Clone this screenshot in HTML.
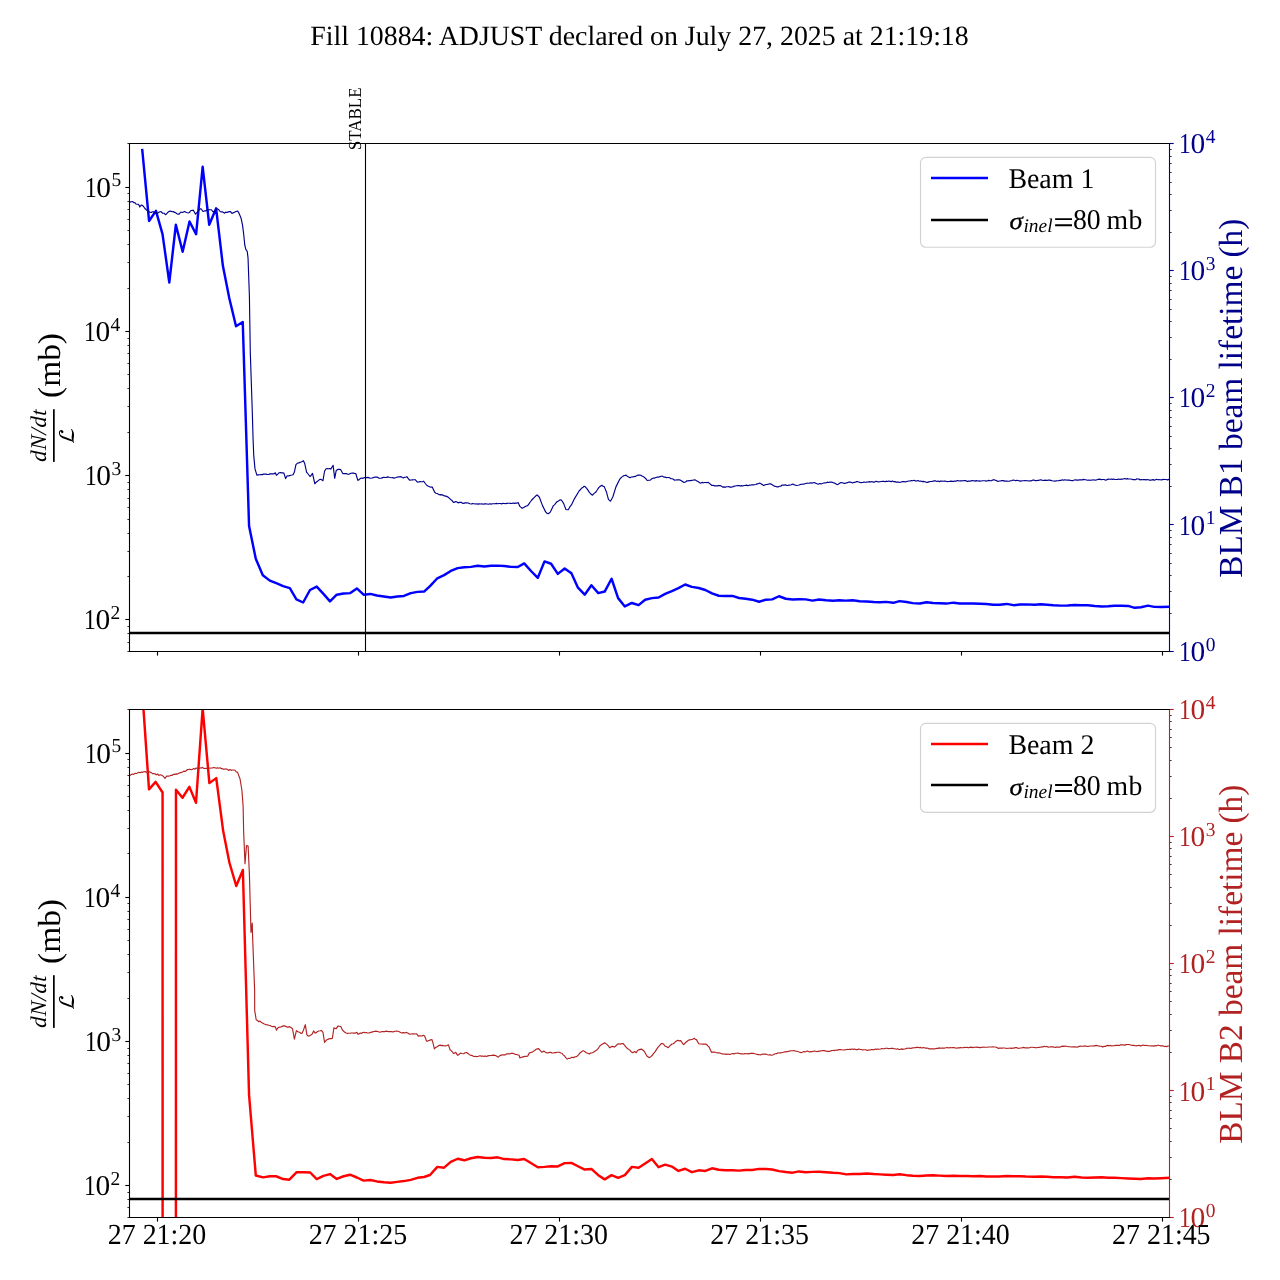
<!DOCTYPE html>
<html><head><meta charset="utf-8"><title>Fill 10884</title>
<style>html,body{margin:0;padding:0;background:#fff;width:1280px;height:1280px;overflow:hidden}svg text{font-family:"Liberation Serif",serif;-webkit-font-smoothing:antialiased;text-rendering:geometricPrecision}svg{will-change:transform}</style></head>
<body>
<svg width="1280" height="1280" viewBox="0 0 1280 1280" style="display:block" font-family='"Liberation Serif", serif'>
<rect width="1280" height="1280" fill="#fff"/>
<defs><clipPath id="c1"><rect x="129.5" y="143.5" width="1040" height="508"/></clipPath><clipPath id="c2"><rect x="129.5" y="709.5" width="1040" height="508"/></clipPath></defs>
<text x="639.5" y="45" font-size="27.85" text-anchor="middle" fill="#000">Fill 10884: ADJUST declared on July 27, 2025 at 21:19:18</text>
<g clip-path="url(#c1)" fill="none" stroke-linejoin="round">
<path d="M142.28,150.06 L149.06,220.94 L155.95,210.87 L162.52,234.06 L169.30,282.50 L175.86,224.76 L182.64,251.78 L189.53,221.48 L196.09,234.28 L202.66,166.80 L209.22,224.76 L216.11,208.36 L222.89,265.78 L229.25,298 L236,326.25 L242.75,322 L249.06,525.94 L255.78,558.75 L262.81,575.16 L269.84,580.62 L276.88,583.44 L283.12,586.09 L289.84,588.12 L296.41,599.38 L303.12,602.50 L310,590 L316.72,586.56 L323.44,593.91 L330,601.41 L336.72,594.69 L343.59,593.44 L350.31,593.12 L356.88,588.44 L363.59,594.69 L370.31,593.91 L376.88,595.47 L383.91,596.56 L390.62,597.50 L397.19,596.56 L403.91,595.94 L410.78,593.12 L417.50,591.88 L424.06,591.56 L430,586.09 L437.34,578.28 L444.06,575.16 L450.78,570.94 L457.66,568.12 L464.38,567.34 L470.94,566.88 L477.66,565.78 L484.38,566.56 L490.94,565.78 L497.66,565.62 L504.22,565.94 L510.94,566.88 L517.81,567.03 L524.22,563.44 L531.25,571.25 L537.81,577.81 L544.53,561.41 L551.09,563.75 L557.81,573.91 L564.69,568.44 L571.41,573.28 L577.97,587.66 L584.69,594.69 L591.41,585.31 L598.28,593.12 L604.69,591.56 L611.56,578.75 L618.12,598.12 L624.84,606.41 L631.88,602.97 L638.59,605.16 L645.16,599.69 L651.88,598.12 L658.59,597.50 L665.16,593.91 L671.88,591.09 L678.44,588.12 L685.16,584.53 L691.88,586.88 L698.75,587.97 L705.31,590 L712.03,593.44 L718.75,595.78 L725.31,595.94 L732.34,595.94 L739.06,597.97 L745.62,598.75 L752.19,599.69 L759.06,601.72 L765.94,599.69 L772.19,599.38 L778.91,596.25 L785.78,598.75 L792.50,599.53 L799.22,599.22 L805.78,599.38 L812.50,600.62 L819.06,599.53 L826.09,600.31 L833.12,600.78 L839.38,600.16 L845.62,600.62 L852.66,600.31 L859.69,601.25 L866.72,601.41 L873.75,602.03 L880,602.19 L886.25,601.88 L893.28,602.81 L899.53,601.09 L906.56,602.03 L912.81,603.12 L919.84,603.44 L926.56,602.19 L933.12,602.97 L939.38,603.28 L946.41,603.59 L953.44,602.66 L959.69,603.44 L966.72,603.59 L972.97,603.59 L980,603.75 L986.25,603.91 L993.28,604.69 L999.53,604.69 L1006.56,603.91 L1013.59,605.16 L1019.84,604.53 L1026.09,604.38 L1034.69,604.69 L1040.94,604.22 L1047.19,604.69 L1053.44,605.31 L1060.47,605.62 L1067.50,605.47 L1074.53,605 L1081.56,605.16 L1087.81,605.31 L1094.84,605.94 L1101.88,606.41 L1108.12,606.25 L1114.38,605.78 L1121.41,605.78 L1128.12,605.94 L1134.69,607.81 L1140.94,607.19 L1147.97,605.62 L1154.22,606.88 L1161.25,607.03 L1169.06,606.72" stroke="#0000ff" stroke-width="2.45" stroke-linecap="square"/>
<path d="M129.5,633.00 H1169.5" stroke="#000" stroke-width="2.4"/>
<path d="M129.59,202.34 L131.12,201.80 L132.66,201.48 L133.75,202.75 L134.84,202.60 L135.94,204.02 L137.03,204.25 L138.12,204.26 L139.22,205.41 L139.77,206.94 L141.41,204.98 L142.50,205.56 L143.59,206.50 L144.69,208.31 L145.78,209.23 L146.87,210.30 L147.97,210.52 L149.06,211.93 L150.16,212.20 L151.25,212.50 L152.34,211.71 L153.44,211.74 L154.53,212.87 L155.62,211.99 L156.72,213.39 L157.81,213.09 L158.91,212.27 L160,211.75 L161.09,211.68 L162.55,213.25 L164.01,213.20 L165.47,214.67 L166.74,213.71 L168.02,212.21 L169.30,211.35 L170.66,211.08 L172.03,211.78 L173.12,211.63 L174.22,212.13 L175.59,212.79 L176.95,213.66 L178.05,214.12 L179.14,214.11 L180.78,212 L182.06,212.45 L183.33,212.12 L184.61,211.41 L185.98,212.30 L187.34,212.76 L188.44,213.03 L189.53,212.40 L190.62,210.77 L191.72,210.44 L193.36,210.20 L195.55,214.16 L196.64,212.77 L197.73,211.87 L199.10,209.63 L200.47,208.68 L201.56,209.19 L202.66,211.25 L203.75,211.31 L204.84,210.84 L205.94,210.89 L207.03,209.72 L208.12,209.63 L209.22,209.70 L210.31,209.79 L211.40,209.74 L212.50,211.23 L213.59,212.05 L214.69,210.78 L215.78,210.15 L216.87,208.78 L217.97,209.09 L219.06,210.04 L220.15,211.48 L221.25,211.93 L222.34,211.79 L223.44,212.41 L224.53,213.22 L225.62,212.12 L226.72,212.57 L227.81,212.10 L229.18,211.60 L230.55,211.57 L231.64,213.14 L232.73,213.16 L233.83,212.46 L234.92,212.09 L236.56,211.21 L237.65,211.17 L238.75,212.69 L240.94,217.66 L242.58,225.31 L243.67,234.06 L244.76,245 L245.86,249.37 L247.28,251.56 L248.04,258.12 L249.40,296 L250.30,352.50 L252.20,408.80 L253.12,440 L253.75,455.62 L255,468.91 L256.88,475.16 L258.28,474.84 L259.69,474.72 L260.97,474.60 L262.24,474.61 L263.52,474.11 L264.80,474.19 L266.08,474.12 L267.36,474.51 L268.64,474.54 L269.91,473.87 L271.19,473.86 L272.47,473.88 L273.75,473.93 L275.31,472.81 L276.41,475.31 L277.81,474.13 L279.22,472.70 L280.39,472.49 L281.56,472.90 L282.73,472.94 L283.91,473.16 L285.62,478.59 L287.03,475.94 L288.25,476.05 L289.47,475.59 L290.69,475.20 L291.91,475.03 L293.12,474.77 L294.38,472.03 L295.94,464.69 L297.34,463.32 L298.75,462.85 L299.92,462.41 L301.09,462.02 L302.27,461.49 L303.44,460.73 L304.69,463.44 L306.56,472.03 L308.12,474.01 L310,476.53 L311.25,475.26 L312.50,473.38 L314.84,483.75 L316.17,482.23 L317.50,481.27 L318.91,480.12 L320.31,479.30 L321.64,479.80 L322.97,480.70 L324.53,471.25 L326.09,468.74 L327.27,468.59 L328.44,468.80 L329.61,468.53 L330.78,469.09 L333.12,465.31 L334.69,478.28 L336.25,470.47 L337.81,469.43 L339.22,469.25 L340.62,469.57 L342.81,473.59 L344,473.57 L345.19,473.67 L346.38,473.57 L347.56,474.25 L348.75,474.30 L349.92,473.64 L351.09,473.27 L352.27,473.03 L353.44,473.12 L354.61,473.39 L355.78,473.48 L357.81,480.31 L358.96,479.90 L360.10,478.69 L361.25,478.05 L362.60,478.38 L363.96,477.78 L365.31,477.33 L366.64,477.65 L367.97,477.36 L369.30,477.87 L370.62,478.20 L371.99,478.03 L373.36,477.66 L374.73,477.07 L376.09,476.97 L377.40,477.18 L378.70,478.08 L380,478.30 L381.30,478.24 L382.60,477.62 L383.91,477.28 L385.21,477.49 L386.51,477.37 L387.81,476.89 L389.06,477.24 L390.31,477.54 L391.56,477.75 L392.81,477.63 L394.06,478.13 L395.47,477.73 L396.88,477.19 L398.28,476.90 L399.69,476.82 L401.09,476.60 L402.27,477.42 L403.44,478.03 L404.58,477.30 L405.73,477.22 L406.88,476.64 L408.28,478.72 L409.69,480.25 L411.05,479.97 L412.42,479.86 L413.79,479.72 L415.16,479.70 L416.33,480.96 L417.50,482.07 L418.75,482.05 L420,481.67 L421.25,481.72 L422.50,481.74 L423.75,481.21 L425.31,483.49 L426.88,485.51 L428.44,486.32 L430,487 L431.17,487.09 L432.34,487.19 L434.69,492.34 L435.99,493.20 L437.29,493.46 L438.59,494.36 L439.77,494.83 L440.94,494.60 L442.11,494.84 L443.28,495.37 L444.53,495.93 L445.78,496.08 L447.03,496.64 L448.28,497.25 L449.53,498.32 L450.83,499.72 L452.14,500.55 L453.44,502.34 L454.61,502.18 L455.78,501.48 L456.95,501.99 L458.12,502.84 L459.69,502.36 L461.25,502.27 L462.42,503.27 L463.59,503.35 L465.16,502.91 L466.72,502.71 L468.28,502.99 L469.84,503.77 L471.21,503.97 L472.58,503.60 L473.95,503.75 L475.31,503.96 L476.61,503.85 L477.92,504.13 L479.22,503.87 L480.52,504 L481.82,503.77 L483.12,504.26 L484.46,503.90 L485.80,503.94 L487.14,504 L488.48,504.21 L489.82,503.78 L491.16,504.13 L492.50,503.75 L493.80,503.78 L495.10,503.77 L496.41,503.36 L497.71,503.70 L499.01,503.50 L500.31,503.51 L501.61,503.91 L502.92,503.33 L504.22,503.49 L505.52,503.62 L506.82,503.40 L508.12,503.20 L509.35,503.30 L510.58,503.33 L511.81,503.51 L513.04,502.97 L514.26,503.33 L515.49,503.08 L516.72,503.17 L518.28,502.63 L519.84,506.41 L521.02,507.35 L522.19,508.31 L523.75,507.55 L525.31,506.60 L526.48,505.97 L527.66,505.68 L528.96,503.81 L530.26,501.99 L531.56,500.25 L532.93,498.75 L534.30,497.45 L535.66,496.04 L537.03,494.90 L538.20,496.02 L539.38,497.21 L542.50,505.62 L545.62,511.88 L546.95,513.24 L548.28,513.79 L549.30,512.94 L550.31,512.09 L553.44,505.62 L554.74,504.59 L556.04,502.73 L557.34,501.54 L558.49,501.05 L559.64,500.13 L560.78,499.72 L562.19,501.22 L563.59,503.36 L565.94,509.53 L567.11,509.76 L568.28,509.72 L569.84,506.91 L571.41,504.95 L574.53,498.59 L579.22,490.78 L580.39,489.74 L581.56,488.15 L582.73,487.57 L583.91,486.32 L585.08,486.65 L586.25,487.87 L587.81,489.92 L589.38,492.34 L590.94,494.06 L592.50,495.16 L594.06,493.40 L595.62,492.31 L597.19,490.01 L598.75,487.58 L600.31,486.24 L601.88,485.23 L603.05,486.27 L604.22,486.64 L606.56,492.34 L608.44,499.38 L609.45,500.36 L610.47,501.22 L612.81,497.03 L615.94,486.88 L619.84,479.06 L621.15,477.53 L622.45,476.64 L623.75,475.68 L624.92,475.48 L626.09,475.10 L627.40,476.43 L628.70,477 L630,477.73 L631.30,476.98 L632.60,476.90 L633.91,476.65 L635.47,476.40 L637.03,475.36 L638.33,475.02 L639.64,475.09 L640.94,475.20 L642.50,476.35 L644.06,477.07 L645.62,478.47 L647.19,480.51 L648.75,480.21 L650.31,480.10 L651.88,478.81 L653.44,478.07 L654.74,478.07 L656.04,477.49 L657.34,476.98 L658.65,477.17 L659.95,476.57 L661.25,476.24 L662.55,476.13 L663.85,477.11 L665.16,476.98 L666.33,477.63 L667.50,477.46 L668.67,477.53 L669.84,477.84 L671.02,478.74 L672.19,478.80 L673.36,479.27 L674.53,480.17 L675.90,479.95 L677.27,479.84 L678.63,479.89 L680,479.94 L681.30,480.70 L682.60,481.57 L683.91,482.41 L685.47,481.93 L687.03,480.84 L688.20,480.86 L689.38,480.52 L690.55,480.58 L691.72,480.39 L693.02,480.22 L694.32,479.82 L695.62,480.11 L696.93,480.98 L698.23,481.63 L699.53,482.80 L700.83,483.11 L702.14,482.39 L703.44,482.81 L704.61,482.52 L705.78,482.50 L706.95,482.69 L708.12,482.29 L709.43,483.34 L710.73,484.47 L712.03,485.54 L713.33,485.34 L714.64,485.89 L715.94,485.88 L717.24,485.84 L718.54,485.60 L719.84,485.55 L721.41,486.13 L722.97,487.17 L724.14,486.88 L725.31,487.30 L726.48,486.80 L727.66,486.71 L728.83,486.54 L730,487.15 L731.17,487.17 L732.34,486.96 L733.71,486.39 L735.08,486.04 L736.45,485.77 L737.81,485.61 L738.98,485.59 L740.16,486.07 L741.46,485.64 L742.76,485.94 L744.06,485.54 L745.31,485.35 L746.56,485.11 L747.81,485.69 L749.06,485.16 L750.31,485.24 L751.68,484.72 L753.05,484.83 L754.41,484.71 L755.78,484.53 L757.08,483.88 L758.39,483.70 L759.69,483.04 L760.99,483.87 L762.29,484.52 L763.59,485.58 L764.90,484.89 L766.20,484.51 L767.50,484.44 L769.06,483.93 L770.62,483.79 L771.93,484.55 L773.23,485.51 L774.53,486.17 L775.83,486.53 L777.14,486.92 L778.44,486.82 L779.61,486.23 L780.78,486.25 L781.95,485.07 L783.12,484.95 L784.30,485.08 L785.47,484.71 L786.64,485.46 L787.81,485.50 L788.98,485.14 L790.16,484.95 L791.33,484.74 L792.50,484.05 L793.80,484.60 L795.10,484.95 L796.41,485.47 L797.77,485.24 L799.14,484.95 L800.51,484.44 L801.88,484.25 L803.12,484.08 L804.38,483.97 L805.62,483.47 L806.88,483.19 L808.12,483.26 L809.38,483.14 L810.62,482.75 L811.88,483.14 L813.12,482.73 L814.38,482.56 L815.68,483.17 L816.98,483.79 L818.28,484.21 L819.65,483.51 L821.02,483.83 L822.38,483.48 L823.75,482.97 L825,482.84 L826.25,482.78 L827.50,482.15 L828.75,482.53 L830,482.07 L831.30,482.06 L832.60,482.42 L833.91,482.92 L835.47,483.44 L837.03,484.65 L838.33,484.23 L839.64,483.17 L840.94,482.44 L842.24,482.74 L843.54,483.17 L844.84,483.41 L846.15,483.01 L847.45,482.67 L848.75,481.98 L850.05,482.11 L851.35,482.41 L852.66,482.93 L853.96,482.34 L855.26,482.24 L856.56,481.64 L857.73,481.68 L858.91,482 L860.08,482.48 L861.25,482.59 L862.59,482.55 L863.93,482.15 L865.27,482.25 L866.61,482.11 L867.95,482.03 L869.29,481.66 L870.62,482.06 L871.96,481.59 L873.30,482.17 L874.64,482.09 L875.98,481.31 L877.32,481.62 L878.66,481.86 L880,481.79 L881.25,481.49 L882.50,481.31 L883.75,481.24 L885,481.79 L886.25,481.17 L887.50,481.44 L888.75,481.06 L890,481.33 L891.25,481.64 L892.50,481.07 L893.75,481.69 L895,481.63 L896.25,482.12 L897.50,482.16 L898.75,482.06 L900,482.44 L901.25,482.05 L902.50,481.62 L903.75,481.54 L905,481.87 L906.30,481.63 L907.60,481.30 L908.91,480.96 L910.21,480.92 L911.51,480.69 L912.81,480.79 L914.11,480.28 L915.42,480.93 L916.72,481.05 L918.02,480.53 L919.32,481.23 L920.62,481.04 L921.99,481.57 L923.36,481.39 L924.73,481.77 L926.09,482.14 L927.50,482.40 L928.91,481.88 L930.31,481.51 L931.72,481.38 L933.12,481.14 L934.38,480.89 L935.62,480.93 L936.88,481.52 L938.12,481.08 L939.38,481.60 L940.62,481.05 L941.88,481.06 L943.12,481.26 L944.38,481 L945.62,481.19 L946.96,481.57 L948.30,481.47 L949.64,481.37 L950.98,481.18 L952.32,481.36 L953.66,481.33 L955,480.96 L956.34,481.07 L957.68,480.49 L959.02,480.99 L960.36,480.72 L961.70,480.92 L963.04,480.79 L964.38,480.52 L965.94,480.65 L967.50,481.61 L968.75,480.95 L970,481.07 L971.25,480.81 L972.50,480.62 L973.75,480.74 L975,481.10 L976.25,480.62 L977.50,481.03 L978.75,480.84 L980,481.12 L981.25,480.98 L982.50,480.77 L983.75,480.73 L985,480.74 L986.25,481.13 L987.55,480.75 L988.85,480.35 L990.16,480.72 L991.46,480.61 L992.76,479.99 L994.06,479.67 L995.36,480.17 L996.67,480.66 L997.97,481.49 L999.34,481 L1000.70,480.89 L1002.07,480.67 L1003.44,480.66 L1004.61,481.09 L1005.78,481.14 L1006.95,481.02 L1008.12,481.21 L1009.38,481.08 L1010.62,480.78 L1011.88,480.56 L1013.12,480.15 L1014.38,480.21 L1015.68,480.79 L1016.98,480.22 L1018.28,480.63 L1019.58,480.83 L1020.89,481.12 L1022.19,480.80 L1023.49,480.70 L1024.79,480.63 L1026.09,480.70 L1027.40,480.69 L1028.70,481.04 L1030,480.79 L1031.30,480.87 L1032.60,480.14 L1033.91,480.09 L1035.21,480.58 L1036.51,480.68 L1037.81,480.30 L1039.11,480.33 L1040.42,479.81 L1041.72,480.07 L1043.02,480.45 L1044.32,480.31 L1045.62,480.17 L1046.93,480.53 L1048.23,480.11 L1049.53,480.16 L1050.83,480.35 L1052.14,480.80 L1053.44,481.02 L1054.74,481.19 L1056.04,480.91 L1057.34,480.74 L1058.65,480.73 L1059.95,480.38 L1061.25,480.34 L1062.42,479.83 L1063.59,480.30 L1064.77,479.75 L1065.94,480.05 L1067.11,480.16 L1068.28,480.08 L1069.45,480.13 L1070.62,480.51 L1071.88,480.64 L1073.12,480.60 L1074.38,480.03 L1075.62,479.91 L1076.88,480.17 L1078.18,480.14 L1079.48,479.91 L1080.78,479.70 L1082.08,479.92 L1083.39,479.37 L1084.69,479.59 L1085.99,479.73 L1087.29,480.21 L1088.59,480.04 L1089.90,480.31 L1091.20,480.06 L1092.50,480.03 L1093.80,479.82 L1095.10,480.26 L1096.41,479.93 L1097.71,479.48 L1099.01,479.12 L1100.31,479.37 L1101.48,479.63 L1102.66,479.55 L1103.83,479.53 L1105,479.92 L1106.25,480.06 L1107.50,479.38 L1108.75,479.10 L1110,479.21 L1111.25,479.18 L1112.50,479.40 L1113.75,479.04 L1115,479.55 L1116.25,479.54 L1117.50,479.38 L1118.75,479.05 L1120,479.56 L1121.25,478.94 L1122.50,479.26 L1123.75,478.78 L1124.92,478.64 L1126.09,479.04 L1127.27,478.63 L1128.44,478.97 L1129.61,478.98 L1130.78,478.97 L1131.95,479.23 L1133.12,479.65 L1134.30,479.66 L1135.47,479.73 L1136.64,478.94 L1137.81,479.01 L1138.98,479.07 L1140.16,479.91 L1141.33,479.48 L1142.50,479.78 L1143.67,479.49 L1144.84,479.60 L1146.02,479.85 L1147.19,479.56 L1148.36,479.72 L1149.53,480.09 L1150.70,480.19 L1151.88,479.92 L1153.05,479.63 L1154.22,480.11 L1155.39,479.85 L1156.56,479.31 L1157.73,479.78 L1158.91,479.67 L1160.08,479.78 L1161.25,479.92 L1162.42,479.62 L1163.59,479.37 L1164.77,479.47 L1165.94,479.46 L1167.50,479.90 L1169.06,479.35" stroke="#00008b" stroke-width="1.15"/>
</g>
<path d="M127.4,651.50 H129.5" stroke="#000" stroke-width="0.8"/>
<path d="M127.4,642.50 H129.5" stroke="#000" stroke-width="0.8"/>
<path d="M127.4,633.50 H129.5" stroke="#000" stroke-width="0.8"/>
<path d="M127.4,626.50 H129.5" stroke="#000" stroke-width="0.8"/>
<path d="M125.3,619.50 H129.5" stroke="#000" stroke-width="1.1"/>
<text transform="translate(83.96,628.95) scale(0.85,1.035)" font-size="27.78" fill="#000">1</text>
<text transform="translate(95.41,628.95) scale(1.06,1.035)" font-size="27.78" fill="#000">0</text>
<text transform="translate(110.56,618.85) scale(1,1.02)" font-size="19.45" fill="#000">2</text>
<path d="M127.4,576.50 H129.5" stroke="#000" stroke-width="0.8"/>
<path d="M127.4,551.50 H129.5" stroke="#000" stroke-width="0.8"/>
<path d="M127.4,533.50 H129.5" stroke="#000" stroke-width="0.8"/>
<path d="M127.4,519.50 H129.5" stroke="#000" stroke-width="0.8"/>
<path d="M127.4,507.50 H129.5" stroke="#000" stroke-width="0.8"/>
<path d="M127.4,498.50 H129.5" stroke="#000" stroke-width="0.8"/>
<path d="M127.4,489.50 H129.5" stroke="#000" stroke-width="0.8"/>
<path d="M127.4,482.50 H129.5" stroke="#000" stroke-width="0.8"/>
<path d="M125.3,475.50 H129.5" stroke="#000" stroke-width="1.1"/>
<text transform="translate(84.90,484.95) scale(0.85,1.035)" font-size="27.78" fill="#000">1</text>
<text transform="translate(96.35,484.95) scale(1.06,1.035)" font-size="27.78" fill="#000">0</text>
<text transform="translate(111.50,474.85) scale(1,1.02)" font-size="19.45" fill="#000">3</text>
<path d="M127.4,432.50 H129.5" stroke="#000" stroke-width="0.8"/>
<path d="M127.4,406.50 H129.5" stroke="#000" stroke-width="0.8"/>
<path d="M127.4,388.50 H129.5" stroke="#000" stroke-width="0.8"/>
<path d="M127.4,374.50 H129.5" stroke="#000" stroke-width="0.8"/>
<path d="M127.4,363.50 H129.5" stroke="#000" stroke-width="0.8"/>
<path d="M127.4,353.50 H129.5" stroke="#000" stroke-width="0.8"/>
<path d="M127.4,345.50 H129.5" stroke="#000" stroke-width="0.8"/>
<path d="M127.4,338.50 H129.5" stroke="#000" stroke-width="0.8"/>
<path d="M125.3,331.50 H129.5" stroke="#000" stroke-width="1.1"/>
<text transform="translate(83.96,340.95) scale(0.85,1.035)" font-size="27.78" fill="#000">1</text>
<text transform="translate(95.41,340.95) scale(1.06,1.035)" font-size="27.78" fill="#000">0</text>
<text transform="translate(110.56,330.85) scale(1,1.02)" font-size="19.45" fill="#000">4</text>
<path d="M127.4,288.50 H129.5" stroke="#000" stroke-width="0.8"/>
<path d="M127.4,262.50 H129.5" stroke="#000" stroke-width="0.8"/>
<path d="M127.4,244.50 H129.5" stroke="#000" stroke-width="0.8"/>
<path d="M127.4,230.50 H129.5" stroke="#000" stroke-width="0.8"/>
<path d="M127.4,219.50 H129.5" stroke="#000" stroke-width="0.8"/>
<path d="M127.4,209.50 H129.5" stroke="#000" stroke-width="0.8"/>
<path d="M127.4,201.50 H129.5" stroke="#000" stroke-width="0.8"/>
<path d="M127.4,193.50 H129.5" stroke="#000" stroke-width="0.8"/>
<path d="M125.3,187.50 H129.5" stroke="#000" stroke-width="1.1"/>
<text transform="translate(84.90,196.95) scale(0.85,1.035)" font-size="27.78" fill="#000">1</text>
<text transform="translate(96.35,196.95) scale(1.06,1.035)" font-size="27.78" fill="#000">0</text>
<text transform="translate(111.50,185.75) scale(1,1.02)" font-size="19.45" fill="#000">5</text>
<path d="M127.4,143.50 H129.5" stroke="#000" stroke-width="0.8"/>
<path d="M1169.5,651.50 H1173.7" stroke="#00008b" stroke-width="1.1"/>
<text transform="translate(1179.10,660.95) scale(0.85,1.035)" font-size="27.78" fill="#00008b">1</text>
<text transform="translate(1190.55,660.95) scale(1.06,1.035)" font-size="27.78" fill="#00008b">0</text>
<text transform="translate(1205.70,650.85) scale(1,1.02)" font-size="19.45" fill="#00008b">0</text>
<path d="M1169.5,613.50 H1171.6" stroke="#000" stroke-width="0.8"/>
<path d="M1169.5,591.50 H1171.6" stroke="#000" stroke-width="0.8"/>
<path d="M1169.5,575.50 H1171.6" stroke="#000" stroke-width="0.8"/>
<path d="M1169.5,563.50 H1171.6" stroke="#000" stroke-width="0.8"/>
<path d="M1169.5,553.50 H1171.6" stroke="#000" stroke-width="0.8"/>
<path d="M1169.5,544.50 H1171.6" stroke="#000" stroke-width="0.8"/>
<path d="M1169.5,537.50 H1171.6" stroke="#000" stroke-width="0.8"/>
<path d="M1169.5,530.50 H1171.6" stroke="#000" stroke-width="0.8"/>
<path d="M1169.5,524.50 H1173.7" stroke="#00008b" stroke-width="1.1"/>
<text transform="translate(1179.10,534.95) scale(0.85,1.035)" font-size="27.78" fill="#00008b">1</text>
<text transform="translate(1190.55,534.95) scale(1.06,1.035)" font-size="27.78" fill="#00008b">0</text>
<text transform="translate(1205.70,523.85) scale(1,1.02)" font-size="19.45" fill="#00008b">1</text>
<path d="M1169.5,486.50 H1171.6" stroke="#000" stroke-width="0.8"/>
<path d="M1169.5,464.50 H1171.6" stroke="#000" stroke-width="0.8"/>
<path d="M1169.5,448.50 H1171.6" stroke="#000" stroke-width="0.8"/>
<path d="M1169.5,436.50 H1171.6" stroke="#000" stroke-width="0.8"/>
<path d="M1169.5,426.50 H1171.6" stroke="#000" stroke-width="0.8"/>
<path d="M1169.5,417.50 H1171.6" stroke="#000" stroke-width="0.8"/>
<path d="M1169.5,410.50 H1171.6" stroke="#000" stroke-width="0.8"/>
<path d="M1169.5,403.50 H1171.6" stroke="#000" stroke-width="0.8"/>
<path d="M1169.5,397.50 H1173.7" stroke="#00008b" stroke-width="1.1"/>
<text transform="translate(1179.10,406.95) scale(0.85,1.035)" font-size="27.78" fill="#00008b">1</text>
<text transform="translate(1190.55,406.95) scale(1.06,1.035)" font-size="27.78" fill="#00008b">0</text>
<text transform="translate(1205.70,396.85) scale(1,1.02)" font-size="19.45" fill="#00008b">2</text>
<path d="M1169.5,359.50 H1171.6" stroke="#000" stroke-width="0.8"/>
<path d="M1169.5,337.50 H1171.6" stroke="#000" stroke-width="0.8"/>
<path d="M1169.5,321.50 H1171.6" stroke="#000" stroke-width="0.8"/>
<path d="M1169.5,309.50 H1171.6" stroke="#000" stroke-width="0.8"/>
<path d="M1169.5,299.50 H1171.6" stroke="#000" stroke-width="0.8"/>
<path d="M1169.5,290.50 H1171.6" stroke="#000" stroke-width="0.8"/>
<path d="M1169.5,283.50 H1171.6" stroke="#000" stroke-width="0.8"/>
<path d="M1169.5,276.50 H1171.6" stroke="#000" stroke-width="0.8"/>
<path d="M1169.5,270.50 H1173.7" stroke="#00008b" stroke-width="1.1"/>
<text transform="translate(1179.10,279.95) scale(0.85,1.035)" font-size="27.78" fill="#00008b">1</text>
<text transform="translate(1190.55,279.95) scale(1.06,1.035)" font-size="27.78" fill="#00008b">0</text>
<text transform="translate(1205.70,269.85) scale(1,1.02)" font-size="19.45" fill="#00008b">3</text>
<path d="M1169.5,232.50 H1171.6" stroke="#000" stroke-width="0.8"/>
<path d="M1169.5,210.50 H1171.6" stroke="#000" stroke-width="0.8"/>
<path d="M1169.5,194.50 H1171.6" stroke="#000" stroke-width="0.8"/>
<path d="M1169.5,182.50 H1171.6" stroke="#000" stroke-width="0.8"/>
<path d="M1169.5,172.50 H1171.6" stroke="#000" stroke-width="0.8"/>
<path d="M1169.5,163.50 H1171.6" stroke="#000" stroke-width="0.8"/>
<path d="M1169.5,156.50 H1171.6" stroke="#000" stroke-width="0.8"/>
<path d="M1169.5,149.50 H1171.6" stroke="#000" stroke-width="0.8"/>
<path d="M1169.5,143.50 H1173.7" stroke="#00008b" stroke-width="1.1"/>
<text transform="translate(1179.10,152.95) scale(0.85,1.035)" font-size="27.78" fill="#00008b">1</text>
<text transform="translate(1190.55,152.95) scale(1.06,1.035)" font-size="27.78" fill="#00008b">0</text>
<text transform="translate(1205.70,142.85) scale(1,1.02)" font-size="19.45" fill="#00008b">4</text>
<path d="M157.50,651.5 V655.6" stroke="#000" stroke-width="1.1"/>
<path d="M358.50,651.5 V655.6" stroke="#000" stroke-width="1.1"/>
<path d="M559.50,651.5 V655.6" stroke="#000" stroke-width="1.1"/>
<path d="M760.50,651.5 V655.6" stroke="#000" stroke-width="1.1"/>
<path d="M961.50,651.5 V655.6" stroke="#000" stroke-width="1.1"/>
<path d="M1162.50,651.5 V655.6" stroke="#000" stroke-width="1.1"/>
<path d="M1169.5,143.5 V651.5" fill="none" stroke="#00008b" stroke-width="1.1" stroke-linecap="square"/>
<path d="M129.5,651.5 V143.5" fill="none" stroke="#000" stroke-width="1.1" stroke-linecap="square"/>
<path d="M129.5,651.5 H1169.5" fill="none" stroke="#000" stroke-width="1.1" stroke-linecap="square"/>
<path d="M129.5,143.5 H1169.5" fill="none" stroke="#000" stroke-width="1.1" stroke-linecap="square"/>
<text transform="translate(1241.5,398.2) rotate(-90) scale(1,1.01)" font-size="33.33" text-anchor="middle" fill="#00008b">BLM B1 beam lifetime (h)</text>
<g transform="translate(0,0.0)">
<text transform="translate(60,365.5) rotate(-90) scale(1,0.96)" font-size="33.33" text-anchor="middle" fill="#000">(mb)</text>
<path d="M53.85,409.2 V461.9" stroke="#000" stroke-width="1.75"/>
<text transform="translate(46.2,435.6) rotate(-90) skewX(-2)" font-size="22.5" letter-spacing="0.6" font-style="italic" text-anchor="middle" fill="#000">dN/dt</text>
<g transform="translate(50,420) scale(0.0234375)" fill="#000"><path d="M520,565 C575,565 595,500 552,458 C510,418 440,420 400,470 C360,530 380,640 450,710 C560,800 760,850 960,912 L1005,985 L962,858 C800,780 600,720 470,650 C420,610 410,540 440,500 C458,480 478,498 480,520 C482,546 500,565 520,565 Z"/><path d="M1008,990 C960,880 905,790 925,700 C945,600 955,480 895,398 L928,382 C1010,480 1040,600 1022,700 C1005,800 990,880 1025,975 Z"/></g>
</g>
<rect x="920.5" y="157.4" width="235" height="89.9" rx="5.3" ry="5.3" fill="#fff" fill-opacity="0.8" stroke="#d2d2d2" stroke-width="1.15"/>
<path d="M931,178.0 H988" stroke="#0000ff" stroke-width="2.4"/>
<path d="M931,220.0 H988" stroke="#000" stroke-width="2.4"/>
<text transform="translate(1008.4,187.6) scale(1.004,1.025)" font-size="27.78" fill="#000">Beam 1</text>
<text transform="translate(1009.6,228.7) scale(0.97,0.88)" font-size="27.78" font-style="italic" fill="#000" stroke="#000" stroke-width="0.35">σ</text>
<text x="1023.4" y="232.0" font-size="19.45" font-style="italic" fill="#000">inel</text>
<path d="M1055.1,219.1 H1072 M1055.1,225.2 H1072" stroke="#000" stroke-width="1.9" fill="none"/>
<text transform="translate(1072.9,229.2) scale(1.0,1.035)" font-size="27.78" fill="#000">80</text>
<text x="1106.4" y="229.2" font-size="27.78" letter-spacing="0.6" fill="#000">mb</text>
<path d="M365.5,143.5 V651.5" stroke="#000" stroke-width="1.1"/>
<text transform="translate(360.9,150.2) rotate(-90) scale(1.02,1.1)" font-size="16.67" fill="#000">STABLE</text>
<g clip-path="url(#c2)" fill="none" stroke-linejoin="round">
<path d="M142.30,692 L149,789.38 L155.62,781.88 L162.57,792.50 L169.27,60000 L175.97,789.75 L182.50,797.75 L189.38,786.88 L196,802.75 L202.65,708.50 L209.38,783.12 L216.25,778.12 L223.12,830.62 L229.38,862.50 L236.25,886 L242.88,870 L249.06,1095 L255.78,1175.47 L263.12,1177.34 L269.84,1176.25 L276.09,1176.25 L283.12,1179.06 L289.38,1179.69 L296.41,1172.34 L303.44,1172.34 L310.16,1172.50 L316.72,1179.06 L323.44,1175.94 L330,1174.06 L336.72,1178.91 L343.59,1176.25 L350,1174.69 L356.88,1177.50 L363.59,1180.62 L370.31,1180 L376.88,1181.41 L383.91,1182.19 L390.62,1182.66 L397.19,1181.88 L403.91,1181.09 L410.78,1179.84 L417.50,1177.81 L424.06,1177.03 L430,1175 L437.34,1166.88 L444.06,1167.66 L450.78,1161.88 L457.66,1158.75 L464.38,1160.31 L470.94,1158.28 L477.66,1157.03 L484.38,1157.81 L490.94,1157.97 L497.66,1157.34 L504.22,1159.06 L510.94,1159.38 L517.81,1160 L524.22,1159.06 L531.25,1163.28 L537.81,1167.19 L544.53,1166.88 L551.09,1166.25 L557.81,1166.41 L564.69,1163.12 L571.41,1162.97 L577.97,1166.25 L584.69,1169.53 L591.41,1168.91 L598.28,1175.16 L604.69,1179.38 L611.56,1175.16 L618.12,1177.81 L624.84,1175.16 L631.88,1166.88 L638.59,1167.66 L645.16,1163.44 L651.88,1159.06 L658.59,1167.19 L665.16,1164.69 L671.88,1166.56 L678.44,1170.94 L685.16,1168.75 L691.88,1172.19 L698.75,1170.31 L705.31,1170.94 L712.03,1168.28 L718.75,1169.69 L725.31,1170.31 L732.34,1170.31 L739.06,1170.62 L745.62,1170 L752.19,1170 L759.06,1168.91 L765.94,1168.91 L772.19,1169.53 L778.91,1171.09 L785.78,1172.03 L792.50,1172.66 L799.22,1171.41 L805.78,1172.19 L812.50,1171.88 L819.06,1171.72 L826.09,1172.19 L833.12,1172.81 L839.38,1173.12 L846.41,1174.38 L852.66,1173.91 L859.69,1173.91 L866.72,1173.44 L873.75,1174.06 L880,1174.38 L886.25,1174.69 L893.28,1175 L899.53,1174.22 L906.56,1175.16 L912.81,1175.78 L919.84,1175.94 L926.56,1175.47 L933.12,1175.31 L939.38,1175.62 L946.41,1175.94 L953.44,1175.78 L959.69,1176.09 L966.72,1175.94 L972.97,1176.25 L980,1176.09 L986.25,1176.41 L993.28,1176.41 L999.53,1176.41 L1006.56,1175.94 L1013.59,1176.25 L1019.84,1176.25 L1026.09,1176.56 L1034.69,1176.72 L1040.94,1176.41 L1047.19,1176.72 L1053.44,1177.19 L1060.47,1177.34 L1067.50,1177.50 L1074.53,1176.72 L1081.56,1177.50 L1087.81,1177.66 L1094.84,1177.50 L1101.88,1177.34 L1108.12,1177.66 L1114.38,1177.81 L1121.41,1178.12 L1128.12,1178.44 L1134.69,1178.75 L1140.94,1179.06 L1147.97,1178.28 L1154.22,1178.59 L1161.25,1178.28 L1169.06,1177.81" stroke="#ff0000" stroke-width="2.45" stroke-linecap="square"/>
<path d="M129.5,1199.00 H1169.5" stroke="#000" stroke-width="2.4"/>
<path d="M129.75,775.38 L131.06,774.70 L132.38,774.03 L133.69,774.39 L135,773.36 L136.25,773.55 L137.50,773.05 L138.75,772.33 L140,772.76 L141.25,772.08 L142.50,772.32 L143.75,771.70 L145,771.65 L146.25,772.09 L147.50,772.42 L148.75,771.68 L150,771.95 L151.25,772.62 L152.50,773.65 L153.75,773.55 L155,773.75 L156.25,774.81 L157.50,773.94 L158.75,775.42 L160,774.81 L161.25,775.05 L162.50,775.71 L163.75,776.92 L165,778.41 L166.88,775.96 L168.23,776.12 L169.58,775.96 L170.94,775.31 L172.29,775.32 L173.65,774.34 L175,774.35 L176.25,773.85 L177.50,774.12 L178.75,773.29 L180,772.67 L181.25,772.58 L182.50,771.91 L183.75,771.15 L185,771.38 L186.25,770.72 L187.50,769.51 L188.75,769.44 L190,769.29 L191.25,769.70 L192.50,769.35 L193.75,768.55 L195,769.19 L196.25,768.01 L197.50,768.31 L198.75,768.67 L200,767.81 L201.25,768.11 L202.50,767.42 L203.75,768.38 L205,768.53 L206.25,768.19 L207.50,768.63 L208.75,767.72 L210,768.23 L211.25,767.96 L212.50,767.87 L213.75,767.56 L215,767.81 L216.25,768.33 L217.50,767.77 L218.75,768.22 L220,767.72 L221.25,768.59 L222.50,768.66 L223.75,769.34 L225,769.04 L226.25,768.92 L227.50,769.58 L228.75,770.40 L230,769.60 L231.25,770.34 L232.50,769.97 L233.75,769.97 L235,770.22 L236.25,771.97 L237.50,772.16 L240,778.75 L241.88,790 L243.12,806.25 L243.62,831.25 L245,863.75 L246.50,845.62 L248.12,846.02 L249.38,873.75 L251,932.50 L252.25,923.12 L252.50,933.75 L254.62,990 L254.69,1010.62 L256.25,1020 L257.50,1020.42 L258.75,1021.74 L260,1021.12 L261.25,1022.30 L262.50,1022.91 L263.75,1023.71 L265,1024.19 L266.25,1024.76 L267.50,1024.89 L268.80,1025.27 L270.10,1025.56 L271.41,1026.32 L272.71,1026.72 L274.01,1026.41 L275.31,1026.88 L276.41,1030.16 L277.42,1028.61 L278.44,1027.37 L279.69,1027.18 L280.94,1026.95 L282.19,1026.37 L283.44,1025.85 L284.69,1025.90 L285.86,1026.38 L287.03,1027.06 L288.20,1027.16 L289.38,1026.65 L290.94,1027.59 L292.50,1028.65 L294.38,1039.06 L296.41,1030.62 L297.97,1031.70 L299.53,1032.29 L300.70,1033.21 L301.88,1033.42 L303.44,1030.16 L305.31,1024.69 L306.88,1034.84 L307.89,1035.77 L308.91,1036.24 L310.47,1035.15 L312.03,1034.33 L313.59,1030.94 L315.16,1033.09 L316.33,1032.61 L317.50,1031.51 L318.80,1031.01 L320.10,1030.76 L321.41,1030.46 L322.97,1032.42 L324.53,1042.34 L325.70,1040.81 L326.88,1039.76 L328.44,1039.10 L330,1038.56 L331.17,1038.64 L332.34,1038.52 L333.91,1027.81 L335.08,1028.50 L336.25,1028.65 L337.81,1026.08 L339.38,1026.29 L340.94,1026.65 L342.50,1030.16 L343.67,1031.22 L344.84,1032.32 L346.15,1033.04 L347.45,1033.42 L348.75,1033.26 L350,1033.27 L351.25,1032.95 L352.50,1032.96 L353.75,1033.16 L355,1033.17 L356.88,1032.35 L358.12,1034.38 L359.30,1033.64 L360.47,1033.06 L361.64,1033.33 L362.81,1032.51 L363.98,1032.33 L365.16,1032.77 L366.33,1032.47 L367.50,1032.98 L369.06,1032.96 L370.62,1032.36 L371.88,1032.16 L373.12,1031.62 L374.38,1031.52 L375.62,1031.17 L376.88,1031.38 L378.44,1031.74 L380,1032.32 L381.25,1031.80 L382.50,1031.47 L383.75,1031.69 L385,1031.58 L386.25,1031.11 L387.50,1031.37 L388.75,1031.57 L390,1031.69 L391.25,1031.47 L392.50,1031.88 L393.87,1031.64 L395.23,1031.26 L396.60,1031.15 L397.97,1031.30 L399.27,1031.68 L400.57,1032.50 L401.88,1033.03 L403.05,1032.61 L404.22,1032.85 L405.39,1032.73 L406.56,1032.41 L408.12,1033.17 L409.69,1034.24 L411.09,1034.03 L412.50,1033.88 L413.91,1033.76 L415.31,1033.97 L416.72,1033.94 L418.28,1036.10 L419.53,1035.86 L420.78,1035.93 L422.03,1035.99 L423.28,1035.36 L424.53,1035.70 L426.56,1041.09 L427.71,1041.06 L428.85,1040.59 L430,1040.12 L431.88,1039.52 L433.12,1043.44 L434.38,1048.91 L435.70,1047.48 L437.03,1046.70 L438.59,1045.65 L440.16,1045.14 L441.46,1045.64 L442.76,1045.44 L444.06,1045.73 L445.52,1045.88 L446.98,1045.44 L448.44,1044.84 L450,1049.69 L451.15,1050.59 L452.29,1051.80 L453.44,1053.48 L454.61,1053.14 L455.78,1052.33 L456.80,1054.09 L457.81,1055.39 L459.14,1054.27 L460.47,1053.05 L462.03,1053.55 L463.59,1053.73 L465.16,1052.74 L466.72,1052.57 L467.89,1053.48 L469.06,1054.39 L470.36,1055.24 L471.67,1055.36 L472.97,1056.12 L474.27,1056.51 L475.57,1056.33 L476.88,1056.76 L478.44,1056.24 L480,1055.81 L481.30,1056.16 L482.60,1056.06 L483.91,1056.37 L485.21,1055.95 L486.51,1056.42 L487.81,1055.87 L489.11,1055.64 L490.42,1055.48 L491.72,1055.35 L493.28,1055.09 L494.84,1055.36 L495.99,1055.83 L497.14,1056.54 L498.28,1057.20 L499.69,1055.79 L501.09,1055.13 L502.66,1054.90 L504.22,1054.92 L505.39,1054.85 L506.56,1053.91 L507.81,1053.89 L509.06,1053.93 L510.31,1053.64 L511.56,1053.30 L512.81,1053.29 L514.11,1053.79 L515.42,1054.45 L516.72,1054.50 L517.89,1054.97 L519.06,1055.04 L519.84,1057.97 L521.02,1057.32 L522.19,1057.16 L523.75,1056.65 L525.31,1056.28 L526.48,1056.30 L527.66,1056.14 L529.22,1053.12 L530.78,1052.53 L532.34,1052.09 L533.65,1051.10 L534.95,1050.17 L536.25,1049.31 L537.42,1048.87 L538.59,1048.61 L540.16,1050.29 L541.72,1052.24 L542.89,1051.64 L544.06,1051.12 L545.62,1052.38 L547.19,1053.01 L548.75,1052.63 L550.31,1052.24 L551.88,1052.85 L553.44,1052.95 L554.61,1052.63 L555.78,1052.69 L556.95,1052.20 L558.12,1052.22 L559.43,1052.26 L560.73,1053 L562.03,1053.26 L563.20,1054.85 L564.38,1055.77 L565.78,1057.67 L567.19,1059.14 L568.33,1058.36 L569.48,1058.54 L570.62,1058.04 L571.99,1057.31 L573.36,1057.63 L574.73,1056.91 L576.09,1056.71 L577.40,1055.91 L578.70,1054.59 L580,1052.96 L581.56,1051.82 L583.12,1050.63 L584.69,1051.59 L586.25,1052.67 L587.81,1053.21 L589.38,1054.01 L590.55,1053.05 L591.72,1053.01 L592.89,1052.45 L594.06,1051.80 L595.62,1050.72 L597.19,1049.75 L598.49,1048.03 L599.79,1046.01 L601.09,1044.92 L602.66,1043.90 L604.22,1042.88 L605.39,1043.12 L606.56,1044.11 L608.12,1045.57 L609.69,1047.79 L610.86,1046.93 L612.03,1046.38 L613.20,1046.66 L614.38,1047.07 L615.94,1045.80 L617.50,1044.10 L618.87,1043.74 L620.23,1044.16 L621.60,1043.69 L622.97,1043.53 L624.53,1045.06 L626.09,1047.13 L627.40,1048.54 L628.70,1049.37 L630,1050.26 L631.17,1051.84 L632.34,1052.56 L633.52,1052.35 L634.69,1051.52 L636.25,1052.67 L637.42,1050.75 L638.59,1049.86 L640.16,1049.42 L641.72,1049.14 L643.05,1050.28 L644.38,1051.45 L646.88,1055.94 L647.97,1056.69 L649.06,1057.63 L650.47,1056.90 L651.88,1055.81 L653.44,1053.67 L655,1051.87 L656.56,1049.33 L658.12,1047.20 L659.69,1045.40 L661.25,1043.66 L662.81,1043.56 L663.98,1044.68 L665.16,1046.25 L666.72,1046.77 L668.28,1047.74 L669.45,1046.18 L670.62,1045.19 L671.93,1044.04 L673.23,1043.73 L674.53,1042.68 L676.09,1041.24 L677.66,1040.30 L679.22,1040.89 L680.78,1040.59 L682.19,1042.99 L683.59,1044.65 L684.92,1043.28 L686.25,1042.04 L687.81,1040.77 L689.38,1039.85 L690.94,1039.60 L692.50,1039.29 L694.38,1038.36 L695.39,1039.25 L696.41,1039.63 L698.75,1043.75 L700.05,1044.02 L701.35,1043.99 L702.66,1044.15 L703.96,1043.97 L705.26,1044.13 L706.56,1044.33 L707.73,1045.90 L708.91,1046.76 L711.56,1052.34 L713.02,1052.07 L714.48,1052.01 L715.94,1052.51 L717.50,1052.87 L719.06,1052.89 L720.62,1053.26 L722.19,1053.94 L723.36,1053.98 L724.53,1054.19 L725.70,1054.02 L726.88,1054.35 L728.12,1054.03 L729.38,1054.43 L730.62,1054.28 L731.88,1053.79 L733.12,1053.47 L734.30,1053.89 L735.47,1053.29 L736.64,1053.24 L737.81,1053.04 L738.98,1053.38 L740.16,1053.65 L741.33,1053.87 L742.50,1053.92 L743.75,1054.04 L745,1053.60 L746.25,1053.78 L747.50,1053.61 L748.75,1053.86 L749.92,1053.42 L751.09,1053.29 L752.27,1053.40 L753.44,1053.31 L754.69,1053.76 L755.94,1053.96 L757.19,1054.39 L758.44,1054.56 L759.69,1054.79 L760.86,1054.80 L762.03,1054.21 L763.20,1053.96 L764.38,1054.14 L765.94,1054.02 L767.50,1054.80 L768.80,1054.96 L770.10,1054.64 L771.41,1055.32 L772.71,1054.95 L774.01,1054.22 L775.31,1053.71 L776.48,1053.65 L777.66,1052.91 L778.83,1053.03 L780,1052.81 L781.17,1052.81 L782.34,1052.51 L783.52,1052.25 L784.69,1051.76 L785.86,1051.92 L787.03,1051.63 L788.20,1051.52 L789.38,1051.12 L790.55,1050.76 L791.72,1050.72 L792.89,1050.79 L794.06,1050.59 L795.62,1051.28 L797.19,1051.28 L798.49,1051.77 L799.79,1052.18 L801.09,1052.59 L802.40,1052.23 L803.70,1051.58 L805,1051.86 L806.17,1051.53 L807.34,1050.94 L808.52,1051.51 L809.69,1052.11 L810.86,1051.49 L812.03,1051.83 L813.20,1051.25 L814.38,1051.05 L815.94,1051.30 L817.50,1051.83 L818.80,1051.07 L820.10,1051.08 L821.41,1050.70 L822.71,1050.62 L824.01,1050.69 L825.31,1050.93 L826.48,1051.16 L827.66,1051.31 L828.83,1051.27 L830,1051.32 L831.25,1050.69 L832.50,1050.53 L833.75,1050.40 L835,1050.57 L836.25,1050.06 L837.59,1050.14 L838.93,1049.63 L840.27,1049.60 L841.61,1049.70 L842.95,1049.96 L844.29,1049.91 L845.62,1049.77 L846.93,1049.44 L848.23,1049.54 L849.53,1049.42 L850.83,1049.35 L852.14,1048.99 L853.44,1049.41 L854.74,1049 L856.04,1049.65 L857.34,1049.65 L858.65,1048.94 L859.95,1049.32 L861.25,1049.53 L862.50,1049.94 L863.75,1049.71 L865,1049.75 L866.25,1049.89 L867.50,1050.53 L868.80,1049.90 L870.10,1050.01 L871.41,1049.48 L872.71,1049.60 L874.01,1049.76 L875.31,1049.04 L876.61,1049.37 L877.92,1049.02 L879.22,1049.22 L880.52,1048.96 L881.82,1048.48 L883.12,1048.78 L884.46,1048.58 L885.80,1048.21 L887.14,1048.20 L888.48,1048.59 L889.82,1048.55 L891.16,1048.44 L892.50,1048.42 L893.80,1048.60 L895.10,1048.71 L896.41,1049.26 L897.71,1048.72 L899.01,1049.45 L900.31,1049.54 L901.56,1048.88 L902.81,1049.34 L904.06,1048.98 L905.31,1048.95 L906.56,1048.34 L907.86,1048.23 L909.17,1048.14 L910.47,1048.52 L911.77,1048.09 L913.07,1047.81 L914.38,1047.78 L915.62,1047.57 L916.88,1047.33 L918.12,1047.31 L919.38,1047.83 L920.62,1047.40 L921.88,1048 L923.12,1047.61 L924.38,1047.78 L925.62,1048.13 L926.88,1048.13 L928.05,1048.30 L929.22,1048.88 L930.39,1048.94 L931.56,1048.90 L932.86,1048.75 L934.17,1048.87 L935.47,1048.79 L936.77,1048.37 L938.07,1048.40 L939.38,1047.91 L940.71,1048.27 L942.05,1048 L943.39,1048.19 L944.73,1048.06 L946.07,1047.73 L947.41,1047.50 L948.75,1048.02 L950.09,1047.51 L951.43,1047.79 L952.77,1047.69 L954.11,1047.65 L955.45,1048 L956.79,1048.19 L958.12,1047.70 L959.43,1047.91 L960.73,1047.60 L962.03,1047.78 L963.33,1047.62 L964.64,1047.42 L965.94,1047.49 L967.24,1047.34 L968.54,1047.82 L969.84,1047.42 L971.15,1047.12 L972.45,1047.59 L973.75,1047.43 L975,1047.27 L976.25,1047.15 L977.50,1047.32 L978.75,1047.36 L980,1047.74 L981.25,1047.33 L982.50,1047.29 L983.75,1047.15 L985,1047.24 L986.25,1047.22 L987.55,1047.23 L988.85,1046.96 L990.16,1046.96 L991.46,1047.05 L992.76,1046.93 L994.06,1046.95 L995.43,1046.99 L996.80,1047.48 L998.16,1048.34 L999.53,1048.10 L1000.83,1048.13 L1002.14,1048.07 L1003.44,1047.99 L1005,1047.98 L1006.56,1048.48 L1007.81,1048.24 L1009.06,1048.20 L1010.31,1048.08 L1011.56,1048.33 L1012.81,1047.98 L1014.06,1048.17 L1015.31,1047.55 L1016.56,1047.63 L1017.81,1048.23 L1019.06,1048.31 L1020.31,1048.01 L1021.56,1048.01 L1022.81,1047.44 L1024.06,1047.66 L1025.31,1047.86 L1026.48,1047.92 L1027.66,1047.94 L1028.83,1048.03 L1030,1047.54 L1031.30,1047.29 L1032.60,1047.28 L1033.91,1047.52 L1035.21,1047.59 L1036.51,1047.75 L1037.81,1047.45 L1039.11,1047.33 L1040.42,1047.30 L1041.72,1046.92 L1043.02,1046.86 L1044.32,1046.32 L1045.62,1046.70 L1046.88,1046.44 L1048.12,1047.09 L1049.38,1046.96 L1050.62,1046.78 L1051.88,1046.85 L1053.12,1046.90 L1054.38,1047.27 L1055.62,1047.38 L1056.88,1046.97 L1058.12,1047.14 L1059.30,1047.09 L1060.47,1046.86 L1061.64,1046.43 L1062.81,1046.12 L1064.06,1046.39 L1065.31,1045.98 L1066.56,1046.28 L1067.81,1046.47 L1069.06,1046.78 L1070.31,1046.77 L1071.56,1047.06 L1072.81,1046.82 L1074.06,1046.73 L1075.31,1046.91 L1076.61,1047.24 L1077.92,1046.88 L1079.22,1046.41 L1080.52,1046.02 L1081.82,1046.25 L1083.12,1046.18 L1084.43,1046.06 L1085.73,1045.95 L1087.03,1046.31 L1088.33,1046.54 L1089.64,1046.01 L1090.94,1046.03 L1092.19,1045.96 L1093.44,1045.87 L1094.69,1045.93 L1095.94,1045.38 L1097.19,1045.61 L1098.55,1046.01 L1099.92,1046.18 L1101.29,1046.29 L1102.66,1047.10 L1104.02,1046.37 L1105.39,1046.43 L1106.76,1045.60 L1108.12,1045.34 L1109.38,1045.74 L1110.62,1045.43 L1111.88,1046.02 L1113.12,1045.72 L1114.38,1045.63 L1115.62,1045.40 L1116.88,1045.40 L1118.12,1045.44 L1119.38,1045.52 L1120.62,1044.83 L1121.96,1044.89 L1123.30,1044.73 L1124.64,1045.31 L1125.98,1044.62 L1127.32,1044.53 L1128.66,1044.51 L1130,1044.79 L1131.30,1045.29 L1132.60,1045.41 L1133.91,1045.42 L1135.21,1045.76 L1136.51,1045.84 L1137.81,1045.54 L1139.11,1045.32 L1140.42,1045.87 L1141.72,1045.67 L1143.02,1045.04 L1144.32,1045.50 L1145.62,1045.25 L1146.80,1045.45 L1147.97,1045.65 L1149.14,1045.75 L1150.31,1046.01 L1151.48,1045.92 L1152.66,1045.82 L1153.83,1046.15 L1155,1045.44 L1156.17,1045.92 L1157.34,1045.23 L1158.52,1045.28 L1159.69,1045.47 L1160.86,1045.88 L1162.03,1045.88 L1163.20,1045.89 L1164.38,1046.55 L1165.55,1046.34 L1166.72,1046.66 L1167.89,1045.97 L1169.06,1046.03" stroke="#b22222" stroke-width="1.15"/>
</g>
<path d="M127.4,1217.50 H129.5" stroke="#000" stroke-width="0.8"/>
<path d="M127.4,1207.50 H129.5" stroke="#000" stroke-width="0.8"/>
<path d="M127.4,1199.50 H129.5" stroke="#000" stroke-width="0.8"/>
<path d="M127.4,1192.50 H129.5" stroke="#000" stroke-width="0.8"/>
<path d="M125.3,1185.50 H129.5" stroke="#000" stroke-width="1.1"/>
<text transform="translate(83.96,1194.95) scale(0.85,1.035)" font-size="27.78" fill="#000">1</text>
<text transform="translate(95.41,1194.95) scale(1.06,1.035)" font-size="27.78" fill="#000">0</text>
<text transform="translate(110.56,1184.85) scale(1,1.02)" font-size="19.45" fill="#000">2</text>
<path d="M127.4,1142.50 H129.5" stroke="#000" stroke-width="0.8"/>
<path d="M127.4,1116.50 H129.5" stroke="#000" stroke-width="0.8"/>
<path d="M127.4,1098.50 H129.5" stroke="#000" stroke-width="0.8"/>
<path d="M127.4,1084.50 H129.5" stroke="#000" stroke-width="0.8"/>
<path d="M127.4,1073.50 H129.5" stroke="#000" stroke-width="0.8"/>
<path d="M127.4,1063.50 H129.5" stroke="#000" stroke-width="0.8"/>
<path d="M127.4,1055.50 H129.5" stroke="#000" stroke-width="0.8"/>
<path d="M127.4,1048.50 H129.5" stroke="#000" stroke-width="0.8"/>
<path d="M125.3,1041.50 H129.5" stroke="#000" stroke-width="1.1"/>
<text transform="translate(84.90,1050.95) scale(0.85,1.035)" font-size="27.78" fill="#000">1</text>
<text transform="translate(96.35,1050.95) scale(1.06,1.035)" font-size="27.78" fill="#000">0</text>
<text transform="translate(111.50,1040.85) scale(1,1.02)" font-size="19.45" fill="#000">3</text>
<path d="M127.4,998.50 H129.5" stroke="#000" stroke-width="0.8"/>
<path d="M127.4,972.50 H129.5" stroke="#000" stroke-width="0.8"/>
<path d="M127.4,954.50 H129.5" stroke="#000" stroke-width="0.8"/>
<path d="M127.4,940.50 H129.5" stroke="#000" stroke-width="0.8"/>
<path d="M127.4,929.50 H129.5" stroke="#000" stroke-width="0.8"/>
<path d="M127.4,919.50 H129.5" stroke="#000" stroke-width="0.8"/>
<path d="M127.4,911.50 H129.5" stroke="#000" stroke-width="0.8"/>
<path d="M127.4,903.50 H129.5" stroke="#000" stroke-width="0.8"/>
<path d="M125.3,897.50 H129.5" stroke="#000" stroke-width="1.1"/>
<text transform="translate(83.96,906.95) scale(0.85,1.035)" font-size="27.78" fill="#000">1</text>
<text transform="translate(95.41,906.95) scale(1.06,1.035)" font-size="27.78" fill="#000">0</text>
<text transform="translate(110.56,896.85) scale(1,1.02)" font-size="19.45" fill="#000">4</text>
<path d="M127.4,853.50 H129.5" stroke="#000" stroke-width="0.8"/>
<path d="M127.4,828.50 H129.5" stroke="#000" stroke-width="0.8"/>
<path d="M127.4,810.50 H129.5" stroke="#000" stroke-width="0.8"/>
<path d="M127.4,796.50 H129.5" stroke="#000" stroke-width="0.8"/>
<path d="M127.4,785.50 H129.5" stroke="#000" stroke-width="0.8"/>
<path d="M127.4,775.50 H129.5" stroke="#000" stroke-width="0.8"/>
<path d="M127.4,767.50 H129.5" stroke="#000" stroke-width="0.8"/>
<path d="M127.4,759.50 H129.5" stroke="#000" stroke-width="0.8"/>
<path d="M125.3,753.50 H129.5" stroke="#000" stroke-width="1.1"/>
<text transform="translate(84.90,762.95) scale(0.85,1.035)" font-size="27.78" fill="#000">1</text>
<text transform="translate(96.35,762.95) scale(1.06,1.035)" font-size="27.78" fill="#000">0</text>
<text transform="translate(111.50,751.75) scale(1,1.02)" font-size="19.45" fill="#000">5</text>
<path d="M127.4,709.50 H129.5" stroke="#000" stroke-width="0.8"/>
<path d="M1169.5,1217.50 H1173.7" stroke="#b22222" stroke-width="1.1"/>
<text transform="translate(1179.10,1226.95) scale(0.85,1.035)" font-size="27.78" fill="#b22222">1</text>
<text transform="translate(1190.55,1226.95) scale(1.06,1.035)" font-size="27.78" fill="#b22222">0</text>
<text transform="translate(1205.70,1216.85) scale(1,1.02)" font-size="19.45" fill="#b22222">0</text>
<path d="M1169.5,1179.50 H1171.6" stroke="#000" stroke-width="0.8"/>
<path d="M1169.5,1157.50 H1171.6" stroke="#000" stroke-width="0.8"/>
<path d="M1169.5,1141.50 H1171.6" stroke="#000" stroke-width="0.8"/>
<path d="M1169.5,1128.50 H1171.6" stroke="#000" stroke-width="0.8"/>
<path d="M1169.5,1118.50 H1171.6" stroke="#000" stroke-width="0.8"/>
<path d="M1169.5,1110.50 H1171.6" stroke="#000" stroke-width="0.8"/>
<path d="M1169.5,1102.50 H1171.6" stroke="#000" stroke-width="0.8"/>
<path d="M1169.5,1096.50 H1171.6" stroke="#000" stroke-width="0.8"/>
<path d="M1169.5,1090.50 H1173.7" stroke="#b22222" stroke-width="1.1"/>
<text transform="translate(1179.10,1100.95) scale(0.85,1.035)" font-size="27.78" fill="#b22222">1</text>
<text transform="translate(1190.55,1100.95) scale(1.06,1.035)" font-size="27.78" fill="#b22222">0</text>
<text transform="translate(1205.70,1089.85) scale(1,1.02)" font-size="19.45" fill="#b22222">1</text>
<path d="M1169.5,1052.50 H1171.6" stroke="#000" stroke-width="0.8"/>
<path d="M1169.5,1030.50 H1171.6" stroke="#000" stroke-width="0.8"/>
<path d="M1169.5,1014.50 H1171.6" stroke="#000" stroke-width="0.8"/>
<path d="M1169.5,1001.50 H1171.6" stroke="#000" stroke-width="0.8"/>
<path d="M1169.5,991.50 H1171.6" stroke="#000" stroke-width="0.8"/>
<path d="M1169.5,983.50 H1171.6" stroke="#000" stroke-width="0.8"/>
<path d="M1169.5,975.50 H1171.6" stroke="#000" stroke-width="0.8"/>
<path d="M1169.5,969.50 H1171.6" stroke="#000" stroke-width="0.8"/>
<path d="M1169.5,963.50 H1173.7" stroke="#b22222" stroke-width="1.1"/>
<text transform="translate(1179.10,972.95) scale(0.85,1.035)" font-size="27.78" fill="#b22222">1</text>
<text transform="translate(1190.55,972.95) scale(1.06,1.035)" font-size="27.78" fill="#b22222">0</text>
<text transform="translate(1205.70,962.85) scale(1,1.02)" font-size="19.45" fill="#b22222">2</text>
<path d="M1169.5,925.50 H1171.6" stroke="#000" stroke-width="0.8"/>
<path d="M1169.5,903.50 H1171.6" stroke="#000" stroke-width="0.8"/>
<path d="M1169.5,887.50 H1171.6" stroke="#000" stroke-width="0.8"/>
<path d="M1169.5,874.50 H1171.6" stroke="#000" stroke-width="0.8"/>
<path d="M1169.5,864.50 H1171.6" stroke="#000" stroke-width="0.8"/>
<path d="M1169.5,856.50 H1171.6" stroke="#000" stroke-width="0.8"/>
<path d="M1169.5,848.50 H1171.6" stroke="#000" stroke-width="0.8"/>
<path d="M1169.5,842.50 H1171.6" stroke="#000" stroke-width="0.8"/>
<path d="M1169.5,836.50 H1173.7" stroke="#b22222" stroke-width="1.1"/>
<text transform="translate(1179.10,845.95) scale(0.85,1.035)" font-size="27.78" fill="#b22222">1</text>
<text transform="translate(1190.55,845.95) scale(1.06,1.035)" font-size="27.78" fill="#b22222">0</text>
<text transform="translate(1205.70,835.85) scale(1,1.02)" font-size="19.45" fill="#b22222">3</text>
<path d="M1169.5,798.50 H1171.6" stroke="#000" stroke-width="0.8"/>
<path d="M1169.5,776.50 H1171.6" stroke="#000" stroke-width="0.8"/>
<path d="M1169.5,760.50 H1171.6" stroke="#000" stroke-width="0.8"/>
<path d="M1169.5,747.50 H1171.6" stroke="#000" stroke-width="0.8"/>
<path d="M1169.5,737.50 H1171.6" stroke="#000" stroke-width="0.8"/>
<path d="M1169.5,729.50 H1171.6" stroke="#000" stroke-width="0.8"/>
<path d="M1169.5,721.50 H1171.6" stroke="#000" stroke-width="0.8"/>
<path d="M1169.5,715.50 H1171.6" stroke="#000" stroke-width="0.8"/>
<path d="M1169.5,709.50 H1173.7" stroke="#b22222" stroke-width="1.1"/>
<text transform="translate(1179.10,718.95) scale(0.85,1.035)" font-size="27.78" fill="#b22222">1</text>
<text transform="translate(1190.55,718.95) scale(1.06,1.035)" font-size="27.78" fill="#b22222">0</text>
<text transform="translate(1205.70,708.85) scale(1,1.02)" font-size="19.45" fill="#b22222">4</text>
<path d="M157.50,1217.5 V1221.6" stroke="#000" stroke-width="1.1"/>
<path d="M358.50,1217.5 V1221.6" stroke="#000" stroke-width="1.1"/>
<path d="M559.50,1217.5 V1221.6" stroke="#000" stroke-width="1.1"/>
<path d="M760.50,1217.5 V1221.6" stroke="#000" stroke-width="1.1"/>
<path d="M961.50,1217.5 V1221.6" stroke="#000" stroke-width="1.1"/>
<path d="M1162.50,1217.5 V1221.6" stroke="#000" stroke-width="1.1"/>
<path d="M1169.5,709.5 V1217.5" fill="none" stroke="#b22222" stroke-width="1.1" stroke-linecap="square"/>
<path d="M129.5,1217.5 V709.5" fill="none" stroke="#000" stroke-width="1.1" stroke-linecap="square"/>
<path d="M129.5,1217.5 H1169.5" fill="none" stroke="#000" stroke-width="1.1" stroke-linecap="square"/>
<path d="M129.5,709.5 H1169.5" fill="none" stroke="#000" stroke-width="1.1" stroke-linecap="square"/>
<text transform="translate(1241.5,964.2) rotate(-90) scale(1,1.01)" font-size="33.33" text-anchor="middle" fill="#b22222">BLM B2 beam lifetime (h)</text>
<g transform="translate(0,566.0)">
<text transform="translate(60,365.5) rotate(-90) scale(1,0.96)" font-size="33.33" text-anchor="middle" fill="#000">(mb)</text>
<path d="M53.85,409.2 V461.9" stroke="#000" stroke-width="1.75"/>
<text transform="translate(46.2,435.6) rotate(-90) skewX(-2)" font-size="22.5" letter-spacing="0.6" font-style="italic" text-anchor="middle" fill="#000">dN/dt</text>
<g transform="translate(50,420) scale(0.0234375)" fill="#000"><path d="M520,565 C575,565 595,500 552,458 C510,418 440,420 400,470 C360,530 380,640 450,710 C560,800 760,850 960,912 L1005,985 L962,858 C800,780 600,720 470,650 C420,610 410,540 440,500 C458,480 478,498 480,520 C482,546 500,565 520,565 Z"/><path d="M1008,990 C960,880 905,790 925,700 C945,600 955,480 895,398 L928,382 C1010,480 1040,600 1022,700 C1005,800 990,880 1025,975 Z"/></g>
</g>
<rect x="920.5" y="723.4" width="235" height="88.9" rx="5.3" ry="5.3" fill="#fff" fill-opacity="0.8" stroke="#d2d2d2" stroke-width="1.15"/>
<path d="M931,744.0 H988" stroke="#ff0000" stroke-width="2.4"/>
<path d="M931,785.0 H988" stroke="#000" stroke-width="2.4"/>
<text transform="translate(1008.4,753.6) scale(1.004,1.025)" font-size="27.78" fill="#000">Beam 2</text>
<text transform="translate(1009.6,794.55) scale(0.97,0.88)" font-size="27.78" font-style="italic" fill="#000" stroke="#000" stroke-width="0.35">σ</text>
<text x="1023.4" y="797.85" font-size="19.45" font-style="italic" fill="#000">inel</text>
<path d="M1055.1,784.95 H1072 M1055.1,791.05 H1072" stroke="#000" stroke-width="1.9" fill="none"/>
<text transform="translate(1072.9,795.05) scale(1.0,1.035)" font-size="27.78" fill="#000">80</text>
<text x="1106.4" y="795.05" font-size="27.78" letter-spacing="0.6" fill="#000">mb</text>
<text transform="translate(157.0,1243.6) scale(1.006,1.05)" font-size="27.78" text-anchor="middle" fill="#000">27 21:20</text>
<text transform="translate(357.9,1243.6) scale(1.006,1.05)" font-size="27.78" text-anchor="middle" fill="#000">27 21:25</text>
<text transform="translate(558.7,1243.6) scale(1.006,1.05)" font-size="27.78" text-anchor="middle" fill="#000">27 21:30</text>
<text transform="translate(759.6,1243.6) scale(1.006,1.05)" font-size="27.78" text-anchor="middle" fill="#000">27 21:35</text>
<text transform="translate(960.5,1243.6) scale(1.006,1.05)" font-size="27.78" text-anchor="middle" fill="#000">27 21:40</text>
<text transform="translate(1161.3,1243.6) scale(1.006,1.05)" font-size="27.78" text-anchor="middle" fill="#000">27 21:45</text>
</svg>
</body></html>
